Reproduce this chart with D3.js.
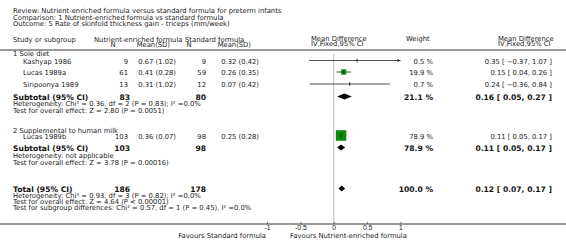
<!DOCTYPE html>
<html lang="en">
<head>
<meta charset="UTF-8">
<title>Forest plot - triceps skinfold</title>
<script src="https://d3js.org/d3.v7.min.js"></script>
<style>
    body{ margin:0; background:#fff; }
    svg{ font-family: "DejaVu Sans", Verdana, sans-serif; }
    .t{ font-size:6.8px; fill:#222; }
    .b{ font-size:7.6px; font-weight:bold; fill:#111; }
</style>
</head>
<body>
<svg width="566" height="248" id="canvas"></svg>
<script>
// data
const studies   = ["Kashyap 1986", "Lucas 1989a", "Siripoonya 1989", "Lucas 1989b"];
const groupOf   = [1, 1, 1, 2];
const n1        = [9, 61, 13, 103];
const msd1      = ["0.67 (1.02)", "0.41 (0.28)", "0.31 (1.02)", "0.36 (0.07)"];
const n2        = [9, 59, 12, 98];
const msd2      = ["0.32 (0.42)", "0.26 (0.35)", "0.07 (0.42)", "0.25 (0.28)"];
const md        = [0.35, 0.15, 0.24, 0.11];
const lo        = [-0.37, 0.04, -0.36, 0.05];
const hi        = [1.07, 0.26, 0.84, 0.17];
const weight    = [0.5, 19.9, 0.7, 78.9];

const groupNames = ["1 Sole diet", "2 Supplemental to human milk"];
const subN1  = [83, 103];
const subN2  = [80, 98];
const subMd  = [0.16, 0.11];
const subLo  = [0.05, 0.05];
const subHi  = [0.27, 0.17];
const subW   = [21.1, 78.9];
const subHet = ["Heterogeneity: Chi\u00b2 = 0.36, df = 2 (P = 0.83); I\u00b2 =0.0%", "Heterogeneity: not applicable"];
const subTest = ["Test for overall effect: Z = 2.80 (P = 0.0051)", "Test for overall effect: Z = 3.78 (P = 0.00016)"];

const total = {n1: 186, n2: 178, md: 0.12, lo: 0.07, hi: 0.17, w: 100.0};
const totalNotes = ["Heterogeneity: Chi\u00b2 = 0.93, df = 3 (P = 0.82); I\u00b2 =0.0%",
    "Test for overall effect: Z = 4.64 (P < 0.00001)",
    "Test for subgroup differences: Chi\u00b2 = 0.57, df = 1 (P = 0.45), I\u00b2 =0.0%"];

const header = ["Review:  Nutrient-enriched formula versus standard formula for preterm infants",
    "Comparison:  1 Nutrient-enriched formula vs standard formula",
    "Outcome:  5 Rate of skinfold thickness gain - triceps (mm/week)"];
const tickVals = [-1, -0.5, 0, 0.5, 1];
const favours = ["Favours Standard formula", "Favours Nutrient-enriched formula"];

const svg = d3.select("svg");
const x = d3.scaleLinear().domain([-1, 1]).range([267, 400.5]);
const sq = d3.scaleSqrt().domain([0, 78.9]).range([0, 10.5]);
const fmt2 = d3.format(".2f");
const ci = (m, l, h) => `${fmt2(m)} [ ${fmt2(l)}, ${fmt2(h)} ]`;

function txt(xp, yp, s, cls, anchor) {
    svg.append("text").attr("x", xp).attr("y", yp).attr("class", cls || "t")
        .attr("text-anchor", anchor || "start").text(s);
}

function diamond(m, l, h, cy) {
    svg.append("path")
        .attr("d", `M${x(l)},${cy} L${x(m)},${cy - 3} L${x(h)},${cy} L${x(m)},${cy + 3} Z`)
        .attr("fill", "#000");
}

// header
header.forEach((h, i) => txt(13, 13.3 + i * 6.5, h));
txt(13, 41.5, "Study or subgroup");
txt(94, 41.5, "Nutrient-enriched formula");
txt(185, 41.5, "Standard formula");
txt(113, 47, "N", "t", "middle");
txt(170, 47, "Mean(SD)", "t", "end");
txt(189, 47, "N", "t", "middle");
txt(251, 47, "Mean(SD)", "t", "end");
txt(311, 40.5, "Mean Difference");
txt(311, 46, "IV,Fixed,95% CI");
txt(406, 40.5, "Weight");
txt(498, 40.5, "Mean Difference");
txt(498, 46, "IV,Fixed,95% CI");

svg.append("line").attr("x1", 0).attr("x2", 566).attr("y1", 50).attr("y2", 50)
    .attr("stroke", "#9a9a9a").attr("stroke-width", 2);

// zero line
svg.append("line").attr("x1", x(0)).attr("x2", x(0)).attr("y1", 54).attr("y2", 223)
    .attr("stroke", "#bbb").attr("stroke-width", 1);

// baselines per group: title, studies, subtotal, notes
const layout = [
    {title: 55.5, rows: [63.5, 75, 87], sub: 100, notes: [105.5, 112.5]},
    {title: 132.5, rows: [138.5], sub: 151, notes: [157.5, 164.5]}
];

groupNames.forEach((g, gi) => {
    const L = layout[gi];
    txt(13, L.title, g);
    const idx = studies.map((s, i) => i).filter(i => groupOf[i] === gi + 1);
    idx.forEach((i, k) => {
        const y = L.rows[k];
        txt(23, y, studies[i]);
        txt(128, y, n1[i], "t", "end");
        txt(176, y, msd1[i], "t", "end");
        txt(206, y, n2[i], "t", "end");
        txt(259, y, msd2[i], "t", "end");
        txt(433, y, weight[i].toFixed(1) + " %", "t", "end");
        txt(552, y, ci(md[i], lo[i], hi[i]), "t", "end");
        const cy = y - 3;
        const clipHi = Math.min(hi[i], 1), clipLo = Math.max(lo[i], -1);
        svg.append("line").attr("x1", x(clipLo)).attr("x2", x(clipHi)).attr("y1", cy).attr("y2", cy)
            .attr("stroke", "#222").attr("stroke-width", 0.8);
        if (hi[i] > 1) {
            svg.append("path").attr("d", `M${x(1)},${cy} l-3,-1.6 l0,3.2 z`).attr("fill", "#222");
        }
        const s = Math.max(sq(weight[i]), 1.2);
        svg.append("rect").attr("x", x(md[i]) - s / 2).attr("y", cy - s / 2)
            .attr("width", s).attr("height", s).attr("fill", "#0a8a0a");
        svg.append("line").attr("x1", x(md[i])).attr("x2", x(md[i])).attr("y1", cy - 2).attr("y2", cy + 2)
            .attr("stroke", "#111").attr("stroke-width", 0.7);
    });
    txt(13, L.sub, "Subtotal (95% CI)", "b");
    txt(130, L.sub, subN1[gi], "b", "end");
    txt(206, L.sub, subN2[gi], "b", "end");
    txt(433, L.sub, subW[gi].toFixed(1) + " %", "b", "end");
    txt(552, L.sub, ci(subMd[gi], subLo[gi], subHi[gi]), "b", "end");
    diamond(subMd[gi], subLo[gi], subHi[gi], L.sub - 3.5);
    txt(13, L.notes[0], subHet[gi]);
    txt(13, L.notes[1], subTest[gi]);
});

// total
const yt = 192;
txt(13, yt, "Total (95% CI)", "b");
txt(130, yt, total.n1, "b", "end");
txt(206, yt, total.n2, "b", "end");
txt(433, yt, total.w.toFixed(1) + " %", "b", "end");
txt(552, yt, ci(total.md, total.lo, total.hi), "b", "end");
diamond(total.md, total.lo, total.hi, yt - 3.5);
[198, 204, 210].forEach((y, i) => txt(13, y, totalNotes[i]));

// axis
svg.append("line").attr("x1", 0).attr("x2", 566).attr("y1", 224).attr("y2", 224)
    .attr("stroke", "#9a9a9a").attr("stroke-width", 2);
const axis = d3.axisBottom(x).tickValues(tickVals).tickSize(-2).tickPadding(1.5)
    .tickFormat(d => String(d));
const ag = svg.append("g").attr("transform", "translate(0,224)").call(axis);
ag.select(".domain").remove();
ag.selectAll("line").attr("stroke", "#666");
ag.selectAll("text").attr("class", "t").attr("font-family", null).attr("font-size", null);

txt(266, 238, favours[0], "t", "end");
txt(290, 238, favours[1], "t", "start");
</script>
</body>
</html>
